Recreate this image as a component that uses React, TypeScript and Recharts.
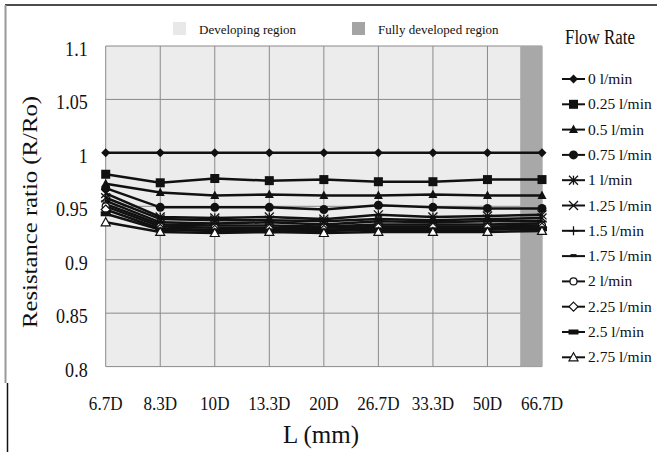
import { ComposedChart, Line, XAxis, YAxis, CartesianGrid, ReferenceArea } from 'recharts';

const categories = ['6.7D', '8.3D', '10D', '13.3D', '20D', '26.7D', '33.3D', '50D', '66.7D'];
const flowRates = ['0', '0.25', '0.5', '0.75', '1', '1.25', '1.5', '1.75', '2', '2.25', '2.5', '2.75'];

const r000 = [1, 1, 1, 1, 1, 1, 1, 1, 1];
const r025 = [0.98, 0.972, 0.976, 0.974, 0.975, 0.973, 0.973, 0.975, 0.975];
const r050 = [0.971, 0.963, 0.96, 0.961, 0.96, 0.96, 0.961, 0.96, 0.96];
const r075 = [0.967, 0.949, 0.949, 0.949, 0.947, 0.951, 0.949, 0.948, 0.948];
const r100 = [0.962, 0.94, 0.939, 0.94, 0.938, 0.942, 0.94, 0.941, 0.942];
const r125 = [0.958, 0.938, 0.937, 0.937, 0.936, 0.938, 0.937, 0.938, 0.939];
const r150 = [0.955, 0.935, 0.934, 0.935, 0.933, 0.936, 0.935, 0.936, 0.936];
const r175 = [0.952, 0.933, 0.932, 0.932, 0.931, 0.933, 0.933, 0.933, 0.934];
const r200 = [0.95, 0.931, 0.93, 0.93, 0.93, 0.931, 0.931, 0.931, 0.932];
const r225 = [0.947, 0.929, 0.928, 0.929, 0.928, 0.93, 0.93, 0.93, 0.93];
const r250 = [0.943, 0.928, 0.927, 0.927, 0.927, 0.928, 0.928, 0.928, 0.929];
const r275 = [0.935, 0.926, 0.925, 0.926, 0.925, 0.926, 0.926, 0.926, 0.927];

const series = [r000, r025, r050, r075, r100, r125, r150, r175, r200, r225, r250, r275];
const yTicks = [0.8, 0.85, 0.9, 0.95, 1, 1.05, 1.1];
const xTicks = categories.map((_, i) => i);

// fully developed band starts part way between 50D and 66.7D
const bandStart = 7.6;

const data = categories.map((label, i) => {
  const row: any = { i, label };
  series.forEach((vals, k) => (row['s' + k] = vals[i]));
  return row;
});

const SERIF = '"Liberation Serif", "Times New Roman", serif';
const INK = '#111';

function Marker({ kind, cx, cy }: { kind: number; cx: number; cy: number }) {
  const s = 4.5;
  switch (kind) {
    case 0:
      return <polygon points={`${cx},${cy - s} ${cx + s},${cy} ${cx},${cy + s} ${cx - s},${cy}`} fill={INK} />;
    case 1:
      return <rect x={cx - s} y={cy - s} width={s * 2} height={s * 2} fill={INK} />;
    case 2:
      return <polygon points={`${cx},${cy - s - 0.5} ${cx + s},${cy + s - 1} ${cx - s},${cy + s - 1}`} fill={INK} />;
    case 3:
      return <circle cx={cx} cy={cy} r={s} fill={INK} />;
    case 4:
      return (
        <g stroke={INK} strokeWidth={1.3}>
          <line x1={cx - s} y1={cy - s} x2={cx + s} y2={cy + s} />
          <line x1={cx - s} y1={cy + s} x2={cx + s} y2={cy - s} />
          <line x1={cx} y1={cy - s} x2={cx} y2={cy + s} />
        </g>
      );
    case 5:
      return (
        <g stroke={INK} strokeWidth={1.3}>
          <line x1={cx - s} y1={cy - s} x2={cx + s} y2={cy + s} />
          <line x1={cx - s} y1={cy + s} x2={cx + s} y2={cy - s} />
        </g>
      );
    case 6:
      return (
        <g stroke={INK} strokeWidth={1.3}>
          <line x1={cx - s} y1={cy} x2={cx + s} y2={cy} />
          <line x1={cx} y1={cy - s} x2={cx} y2={cy + s} />
        </g>
      );
    case 7:
      return <rect x={cx - 3} y={cy - 2} width={6} height={3} fill={INK} />;
    case 8:
      return <circle cx={cx} cy={cy} r={3.5} fill="#fff" stroke={INK} strokeWidth={1.2} />;
    case 9:
      return <polygon points={`${cx},${cy - s} ${cx + s},${cy} ${cx},${cy + s} ${cx - s},${cy}`} fill="#fff" stroke={INK} strokeWidth={1.2} />;
    case 10:
      return <rect x={cx - 5} y={cy - 2.5} width={10} height={5} fill={INK} />;
    default:
      return <polygon points={`${cx},${cy - s} ${cx + s},${cy + s - 1} ${cx - s},${cy + s - 1}`} fill="#fff" stroke={INK} strokeWidth={1.2} />;
  }
}

// tick labels in the original are set in a slightly condensed serif
const YTick = ({ x, y, payload }: any) => (
  <text
    transform={`translate(${x},${y + 10}) scale(0.86,1)`}
    textAnchor="end"
    fontFamily={SERIF}
    fontSize={21}
    fill={INK}
  >
    {String(payload.value)}
  </text>
);

const XTick = ({ x, y, payload }: any) => (
  <text
    transform={`translate(${x},${y + 35}) scale(0.9,1)`}
    textAnchor="middle"
    fontFamily={SERIF}
    fontSize={19}
    fill={INK}
  >
    {categories[payload.value]}
  </text>
);

function Overlay() {
  return (
    <svg width={657} height={452} style={{ position: 'absolute', left: 0, top: 0, pointerEvents: 'none' }}>
      {/* frame */}
      <line x1={5} y1={5} x2={657} y2={5} stroke="#111" strokeWidth={1.5} />
      <line x1={5.5} y1={5} x2={5.5} y2={383} stroke="#999" strokeWidth={2} />
      <line x1={7.5} y1={383} x2={7.5} y2={452} stroke="#111" strokeWidth={1.5} />

      {/* region key */}
      <rect x={173} y={22} width={13} height={13} fill="#e8e8e8" />
      <text x={199} y={34} fontFamily={SERIF} fontSize={13} fill={INK}>Developing region</text>
      <rect x={352} y={22} width={13} height={13} fill="#a4a4a4" />
      <text x={378} y={34} fontFamily={SERIF} fontSize={13} fill={INK}>Fully developed region</text>

      {/* flow rate key */}
      <text x={565} y={44} fontFamily={SERIF} fontSize={20} textLength={70} lengthAdjust="spacingAndGlyphs" fill={INK}>
        Flow Rate
      </text>
      {flowRates.map((f, k) => {
        const y = 79 + k * 25.3;
        return (
          <g key={f}>
            <line x1={562} y1={y} x2={585} y2={y} stroke={INK} strokeWidth={2} />
            <Marker kind={k} cx={573.5} cy={y} />
            <text x={588} y={y + 5} fontFamily={SERIF} fontSize={15.5} fill={INK}>
              {f} l/min
            </text>
          </g>
        );
      })}

      {/* axis titles */}
      <text
        x={0}
        y={0}
        transform="translate(37,212) rotate(-90)"
        textAnchor="middle"
        fontFamily={SERIF}
        fontSize={22}
        textLength={232}
        lengthAdjust="spacingAndGlyphs"
        fill={INK}
      >
        Resistance ratio (R/Ro)
      </text>
      <text x={321} y={443} textAnchor="middle" fontFamily={SERIF} fontSize={25} fill={INK}>
        L (mm)
      </text>
    </svg>
  );
}

export default function App() {
  return (
    <div style={{ position: 'fixed', left: 0, top: 0, width: 657, height: 452, background: '#fff', overflow: 'hidden' }}>
      <ComposedChart
        width={657}
        height={452}
        data={data}
        margin={{ top: 46, right: 115, bottom: 55.4, left: 45.7 }}
      >
        <CartesianGrid fill="#ececec" stroke="#8a8a8a" strokeWidth={1} />
        <ReferenceArea x1={bandStart} x2={8} y1={0.8} y2={1.1} fill="#a8a8a8" fillOpacity={1} stroke="none" />
        <XAxis
          dataKey="i"
          type="number"
          domain={[0, 8]}
          ticks={xTicks}
          tick={<XTick />}
          tickLine={false}
          axisLine={false}
          height={30}
          interval={0}
        />
        <YAxis
          type="number"
          domain={[0.8, 1.1]}
          ticks={yTicks}
          tick={<YTick />}
          tickLine={false}
          axisLine={false}
          tickMargin={12}
          width={60}
          interval={0}
        />
        {series.map((_, k) => (
          <Line
            key={k}
            dataKey={'s' + k}
            stroke={INK}
            strokeWidth={2.5}
            isAnimationActive={false}
            activeDot={false}
            dot={(p: any) => <Marker key={`m${k}-${p.index}`} kind={k} cx={p.cx} cy={p.cy} />}
          />
        ))}
      </ComposedChart>
      <Overlay />
    </div>
  );
}
